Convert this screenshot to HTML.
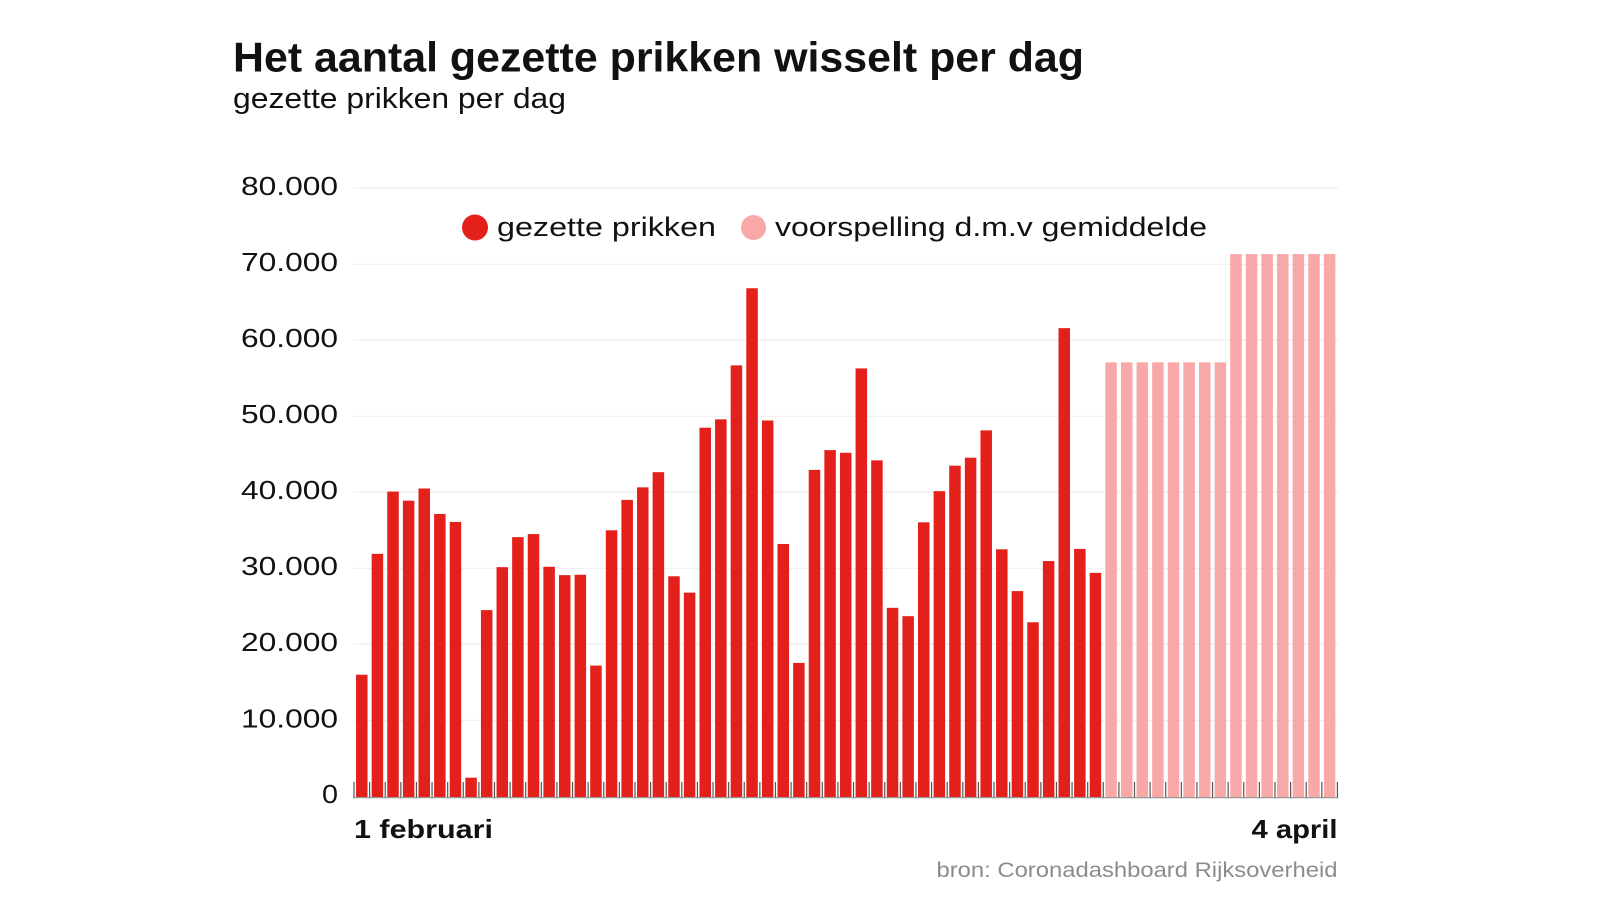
<!DOCTYPE html>
<html><head><meta charset="utf-8"><style>
html,body{margin:0;padding:0;background:#fff;}
svg{display:block;}
text{font-family:"Liberation Sans",sans-serif;}
</style></head><body>
<svg width="1600" height="900" viewBox="0 0 1600 900" xmlns="http://www.w3.org/2000/svg">
<rect width="1600" height="900" fill="#fff"/>
<text x="233" y="71.7" font-size="42" font-weight="bold" fill="#111" textLength="851" lengthAdjust="spacingAndGlyphs">Het aantal gezette prikken wisselt per dag</text>
<text x="233" y="108" font-size="29" fill="#111" textLength="333" lengthAdjust="spacingAndGlyphs">gezette prikken per dag</text>
<g stroke="#ebebeb" stroke-width="1">
<line x1="353" x2="1338" y1="188.3" y2="188.3"/>
<line x1="353" x2="1338" y1="264.3" y2="264.3"/>
<line x1="353" x2="1338" y1="340.3" y2="340.3"/>
<line x1="353" x2="1338" y1="416.3" y2="416.3"/>
<line x1="353" x2="1338" y1="492.3" y2="492.3"/>
<line x1="353" x2="1338" y1="568.3" y2="568.3"/>
<line x1="353" x2="1338" y1="644.3" y2="644.3"/>
<line x1="353" x2="1338" y1="720.3" y2="720.3"/>
</g>
<g font-size="26" fill="#111" text-anchor="end">
<text x="338" y="195.2" textLength="97" lengthAdjust="spacingAndGlyphs">80.000</text>
<text x="338" y="271.2" textLength="97" lengthAdjust="spacingAndGlyphs">70.000</text>
<text x="338" y="347.2" textLength="97" lengthAdjust="spacingAndGlyphs">60.000</text>
<text x="338" y="423.2" textLength="97" lengthAdjust="spacingAndGlyphs">50.000</text>
<text x="338" y="499.2" textLength="97" lengthAdjust="spacingAndGlyphs">40.000</text>
<text x="338" y="575.2" textLength="97" lengthAdjust="spacingAndGlyphs">30.000</text>
<text x="338" y="651.2" textLength="97" lengthAdjust="spacingAndGlyphs">20.000</text>
<text x="338" y="727.3" textLength="97" lengthAdjust="spacingAndGlyphs">10.000</text>
<text x="338" y="803" textLength="16" lengthAdjust="spacingAndGlyphs">0</text>
</g>
<circle cx="475" cy="227.5" r="13" fill="#e3201a"/>
<text x="497" y="236" font-size="27" fill="#111" textLength="219" lengthAdjust="spacingAndGlyphs">gezette prikken</text>
<circle cx="753.5" cy="227.5" r="12.5" fill="#f9a8a8"/>
<text x="775" y="236" font-size="27" fill="#111" textLength="432" lengthAdjust="spacingAndGlyphs">voorspelling d.m.v gemiddelde</text>
<g transform="translate(354,796.3) scale(15.61,-7.6)">
<g fill="#e3201a">
<rect x="0.131" y="-0.16" width="0.737" height="16.16"/>
<rect x="1.131" y="-0.16" width="0.737" height="32.06"/>
<rect x="2.131" y="-0.16" width="0.737" height="40.26"/>
<rect x="3.131" y="-0.16" width="0.737" height="39.06"/>
<rect x="4.131" y="-0.16" width="0.737" height="40.66"/>
<rect x="5.131" y="-0.16" width="0.737" height="37.31"/>
<rect x="6.131" y="-0.16" width="0.737" height="36.26"/>
<rect x="7.131" y="-0.16" width="0.737" height="2.61"/>
<rect x="8.131" y="-0.16" width="0.737" height="24.66"/>
<rect x="9.131" y="-0.16" width="0.737" height="30.31"/>
<rect x="10.131" y="-0.16" width="0.737" height="34.26"/>
<rect x="11.131" y="-0.16" width="0.737" height="34.66"/>
<rect x="12.131" y="-0.16" width="0.737" height="30.36"/>
<rect x="13.131" y="-0.16" width="0.737" height="29.26"/>
<rect x="14.131" y="-0.16" width="0.737" height="29.31"/>
<rect x="15.131" y="-0.16" width="0.737" height="17.36"/>
<rect x="16.131" y="-0.16" width="0.737" height="35.16"/>
<rect x="17.131" y="-0.16" width="0.737" height="39.16"/>
<rect x="18.131" y="-0.16" width="0.737" height="40.81"/>
<rect x="19.131" y="-0.16" width="0.737" height="42.81"/>
<rect x="20.131" y="-0.16" width="0.737" height="29.11"/>
<rect x="21.131" y="-0.16" width="0.737" height="26.96"/>
<rect x="22.131" y="-0.16" width="0.737" height="48.66"/>
<rect x="23.131" y="-0.16" width="0.737" height="49.76"/>
<rect x="24.131" y="-0.16" width="0.737" height="56.86"/>
<rect x="25.131" y="-0.16" width="0.737" height="67.01"/>
<rect x="26.131" y="-0.16" width="0.737" height="49.61"/>
<rect x="27.131" y="-0.16" width="0.737" height="33.36"/>
<rect x="28.131" y="-0.16" width="0.737" height="17.71"/>
<rect x="29.131" y="-0.16" width="0.737" height="43.11"/>
<rect x="30.131" y="-0.16" width="0.737" height="45.71"/>
<rect x="31.131" y="-0.16" width="0.737" height="45.36"/>
<rect x="32.131" y="-0.16" width="0.737" height="56.46"/>
<rect x="33.131" y="-0.16" width="0.737" height="44.36"/>
<rect x="34.131" y="-0.16" width="0.737" height="24.96"/>
<rect x="35.131" y="-0.16" width="0.737" height="23.86"/>
<rect x="36.131" y="-0.16" width="0.737" height="36.21"/>
<rect x="37.131" y="-0.16" width="0.737" height="40.31"/>
<rect x="38.131" y="-0.16" width="0.737" height="43.66"/>
<rect x="39.131" y="-0.16" width="0.737" height="44.71"/>
<rect x="40.131" y="-0.16" width="0.737" height="48.31"/>
<rect x="41.131" y="-0.16" width="0.737" height="32.66"/>
<rect x="42.131" y="-0.16" width="0.737" height="27.16"/>
<rect x="43.131" y="-0.16" width="0.737" height="23.06"/>
<rect x="44.131" y="-0.16" width="0.737" height="31.11"/>
<rect x="45.131" y="-0.16" width="0.737" height="61.76"/>
<rect x="46.131" y="-0.16" width="0.737" height="32.71"/>
<rect x="47.131" y="-0.16" width="0.737" height="29.56"/>
</g>
<g fill="#f9a8a8">
<rect x="48.131" y="-0.16" width="0.737" height="57.26"/>
<rect x="49.131" y="-0.16" width="0.737" height="57.26"/>
<rect x="50.131" y="-0.16" width="0.737" height="57.26"/>
<rect x="51.131" y="-0.16" width="0.737" height="57.26"/>
<rect x="52.131" y="-0.16" width="0.737" height="57.26"/>
<rect x="53.131" y="-0.16" width="0.737" height="57.26"/>
<rect x="54.131" y="-0.16" width="0.737" height="57.26"/>
<rect x="55.131" y="-0.16" width="0.737" height="57.26"/>
<rect x="56.131" y="-0.16" width="0.737" height="71.51"/>
<rect x="57.131" y="-0.16" width="0.737" height="71.51"/>
<rect x="58.131" y="-0.16" width="0.737" height="71.51"/>
<rect x="59.131" y="-0.16" width="0.737" height="71.51"/>
<rect x="60.131" y="-0.16" width="0.737" height="71.51"/>
<rect x="61.131" y="-0.16" width="0.737" height="71.51"/>
<rect x="62.131" y="-0.16" width="0.737" height="71.51"/>
</g>
</g>
<line x1="353" x2="1338" y1="797.6" y2="797.6" stroke="#9a9a9a" stroke-width="1.2"/>
<path transform="translate(354,0) scale(15.61,1)" vector-effect="non-scaling-stroke" stroke="#555" stroke-width="1.2" fill="none" d="M0 782V797.5M1 782V797.5M2 782V797.5M3 782V797.5M4 782V797.5M5 782V797.5M6 782V797.5M7 782V797.5M8 782V797.5M9 782V797.5M10 782V797.5M11 782V797.5M12 782V797.5M13 782V797.5M14 782V797.5M15 782V797.5M16 782V797.5M17 782V797.5M18 782V797.5M19 782V797.5M20 782V797.5M21 782V797.5M22 782V797.5M23 782V797.5M24 782V797.5M25 782V797.5M26 782V797.5M27 782V797.5M28 782V797.5M29 782V797.5M30 782V797.5M31 782V797.5M32 782V797.5M33 782V797.5M34 782V797.5M35 782V797.5M36 782V797.5M37 782V797.5M38 782V797.5M39 782V797.5M40 782V797.5M41 782V797.5M42 782V797.5M43 782V797.5M44 782V797.5M45 782V797.5M46 782V797.5M47 782V797.5M48 782V797.5M49 782V797.5M50 782V797.5M51 782V797.5M52 782V797.5M53 782V797.5M54 782V797.5M55 782V797.5M56 782V797.5M57 782V797.5M58 782V797.5M59 782V797.5M60 782V797.5M61 782V797.5M62 782V797.5M63 782V797.5"/>
<text x="354" y="838" font-size="26" font-weight="bold" fill="#111" textLength="139" lengthAdjust="spacingAndGlyphs">1 februari</text>
<text x="1337.5" y="838" font-size="26" font-weight="bold" fill="#111" text-anchor="end" textLength="86" lengthAdjust="spacingAndGlyphs">4 april</text>
<text x="1337.5" y="877" font-size="21" fill="#8c8c8c" text-anchor="end" textLength="401" lengthAdjust="spacingAndGlyphs">bron: Coronadashboard Rijksoverheid</text>
</svg>
</body></html>
